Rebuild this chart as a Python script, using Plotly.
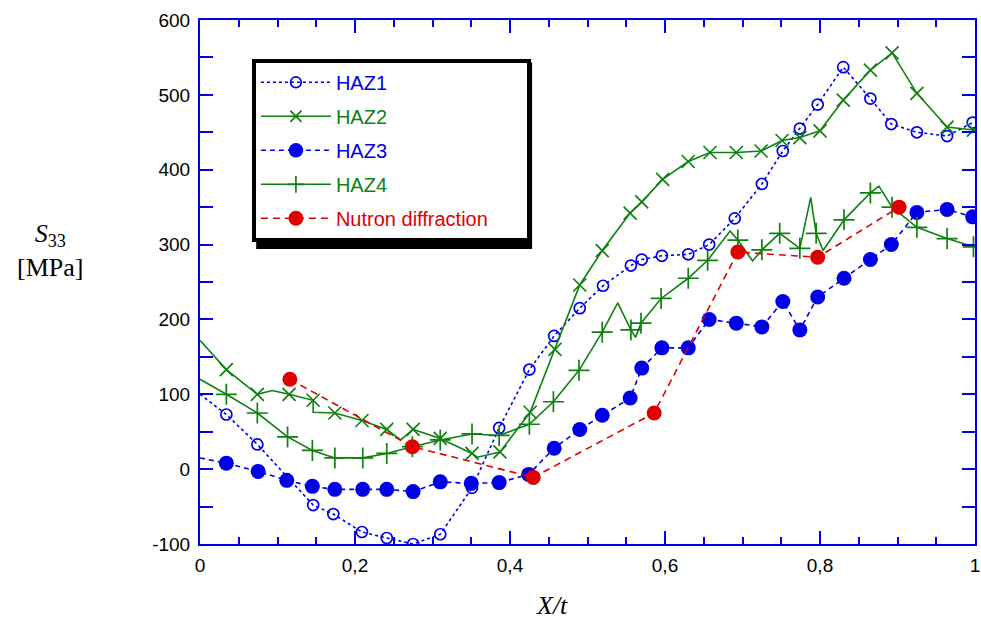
import plotly.graph_objects as go

# ---------------- data ----------------
haz1_x = [0.0, 0.034, 0.074, 0.146, 0.172, 0.209, 0.241, 0.275, 0.310, 0.351, 0.386, 0.425,
          0.457, 0.490, 0.520, 0.556, 0.570, 0.596, 0.630, 0.657, 0.690, 0.725, 0.752, 0.774,
          0.797, 0.830, 0.865, 0.892, 0.925, 0.964, 0.997]
haz1_y = [100, 73, 33, -48, -60, -84, -92, -100, -87, -25, 55, 133,
          178, 215, 245, 272, 280, 285, 287, 300, 335, 381, 425, 455,
          487, 537, 495, 461, 450, 445, 463]
haz1_marker = [False] + [True] * 30

haz2_x = [0.0, 0.034, 0.074, 0.093, 0.115, 0.146, 0.146, 0.174, 0.209, 0.241, 0.259, 0.275, 0.310,
          0.351, 0.358, 0.387, 0.426, 0.458, 0.490, 0.519, 0.555, 0.570, 0.597, 0.630,
          0.658, 0.692, 0.724, 0.751, 0.774, 0.800, 0.830, 0.865, 0.893, 0.925, 0.964, 0.998]
haz2_y = [172, 133, 100, 105, 100, 92, 76, 75, 65, 53, 39, 53, 41,
          21, 16, 23, 76, 160, 246, 292, 342, 357, 387, 411,
          423, 423, 425, 439, 443, 452, 493, 533, 556, 502, 457, 453]
haz2_marker = [False, True, True, False, True, True, False, True, True, True, False, True, True,
               True, False, True, True, True, True, True, True, True, True, True,
               True, True, True, True, True, True, True, True, True, True, True, True]

haz3_x = [0.0, 0.034, 0.075, 0.112, 0.145, 0.174, 0.210, 0.241, 0.275, 0.310, 0.350, 0.386,
          0.424, 0.457, 0.490, 0.519, 0.555, 0.570, 0.596, 0.630, 0.657, 0.692, 0.725,
          0.752, 0.774, 0.797, 0.831, 0.865, 0.892, 0.925, 0.964, 0.997]
haz3_y = [15, 8, -3, -15, -23, -27, -27, -27, -30, -17, -19, -18,
          -7, 28, 53, 72, 95, 135, 162, 162, 200, 195, 190,
          224, 186, 230, 255, 280, 300, 343, 347, 337]
haz3_marker = [False] + [True] * 31

haz4_x = [0.0, 0.034, 0.074, 0.113, 0.145, 0.174, 0.210, 0.241, 0.274, 0.310, 0.351, 0.386,
          0.425, 0.456, 0.489, 0.519, 0.539, 0.556, 0.562, 0.569, 0.595, 0.630, 0.655,
          0.684, 0.694, 0.713, 0.725, 0.748, 0.774, 0.788, 0.795, 0.804, 0.831, 0.865,
          0.876, 0.893, 0.925, 0.964, 0.998]
haz4_y = [120, 100, 75, 43, 25, 15, 15, 21, 30, 39, 47, 45,
          60, 90, 132, 183, 222, 186, 176, 195, 228, 255, 279,
          318, 306, 278, 293, 315, 295, 363, 315, 292, 333, 369,
          378, 350, 323, 308, 297]
haz4_marker = [False, True, True, True, True, True, True, True, True, True, True, True,
               True, True, True, True, False, True, False, True, True, True, True,
               False, True, False, True, True, True, False, True, False, True, True,
               False, True, True, True, True]

nd_x = [0.116, 0.274, 0.430, 0.586, 0.694, 0.797, 0.902]
nd_y = [120, 30, -11, 75, 290, 283, 350]

x_ticks = [0, 0.2, 0.4, 0.6, 0.8, 1]
x_tick_labels = ["0", "0,2", "0,4", "0,6", "0,8", "1"]
y_ticks = [-100, 0, 100, 200, 300, 400, 500, 600]
y_tick_labels = ["-100", "0", "100", "200", "300", "400", "500", "600"]

BLUE = "rgb(0,0,230)"
GREEN = "rgb(16,128,16)"
RED = "rgb(225,0,0)"


def sizes(flags, s):
    return [s if f else 0 for f in flags]


fig = go.Figure()

fig.add_trace(go.Scatter(
    x=haz1_x, y=haz1_y, mode="lines+markers",
    name=f"<span style='color:{BLUE}'>HAZ1</span>",
    legendgroup="a",
    line=dict(color=BLUE, width=1.6, dash="3px,3px"),
    marker=dict(symbol="circle-open", size=sizes(haz1_marker, 11), color=BLUE, opacity=1,
                line=dict(width=1.7, color=BLUE)),
))
fig.add_trace(go.Scatter(
    x=haz2_x, y=haz2_y, mode="lines+markers",
    name=f"<span style='color:{GREEN}'>HAZ2</span>",
    legendgroup="b",
    line=dict(color=GREEN, width=1.6),
    marker=dict(symbol="x-thin-open", size=sizes(haz2_marker, 13), color=GREEN, opacity=1,
                line=dict(width=1.7, color=GREEN)),
))
fig.add_trace(go.Scatter(
    x=haz3_x, y=haz3_y, mode="lines+markers",
    name=f"<span style='color:{BLUE}'>HAZ3</span>",
    legendgroup="c",
    line=dict(color=BLUE, width=1.6, dash="5px,4px"),
    marker=dict(symbol="circle", size=sizes(haz3_marker, 15), color=BLUE, opacity=1,
                line=dict(width=0)),
))
fig.add_trace(go.Scatter(
    x=haz4_x, y=haz4_y, mode="lines+markers",
    name=f"<span style='color:{GREEN}'>HAZ4</span>",
    legendgroup="d",
    line=dict(color=GREEN, width=1.6),
    marker=dict(symbol="cross-thin-open", size=sizes(haz4_marker, 15), color=GREEN, opacity=1,
                line=dict(width=1.7, color=GREEN)),
))
fig.add_trace(go.Scatter(
    x=nd_x, y=nd_y, mode="lines+markers",
    name=f"<span style='color:{RED}'>Nutron diffraction</span>&nbsp;&nbsp;&nbsp;&nbsp;&nbsp;&nbsp;",
    legendgroup="e",
    line=dict(color=RED, width=1.6, dash="7px,5px"),
    marker=dict(symbol="circle", size=15, color=RED),
))

axis_common = dict(
    showline=True, linecolor=BLUE, linewidth=2, mirror="ticks",
    ticks="inside", tickcolor=BLUE, tickwidth=2, showgrid=False, zeroline=False,
    automargin=False,
    tickfont=dict(family="Liberation Sans, Arial", size=19, color="black"),
)

fig.update_xaxes(
    range=[0, 1], tickvals=x_ticks, ticktext=x_tick_labels, ticklen=13,
    ticklabelstandoff=3,
    minor=dict(dtick=0.05, ticks="inside", ticklen=7, tickcolor=BLUE, tickwidth=2),
    **axis_common,
)
fig.update_yaxes(
    range=[-100, 600], tickvals=y_ticks, ticktext=y_tick_labels, ticklen=13,
    ticklabelstandoff=4,
    minor=dict(dtick=50, ticks="inside", ticklen=13, tickcolor=BLUE, tickwidth=2),
    **axis_common,
)

# legend geometry (paper coords); shadow rect offset a few px right/down
leg_x0, leg_y1 = 0.067, 0.926
fig.add_shape(type="rect", xref="paper", yref="paper",
              x0=0.0725, x1=0.4285, y0=0.5630, y1=0.9190,
              fillcolor="black", line=dict(width=0), layer="below")

fig.update_layout(
    width=981, height=626,
    margin=dict(l=200, r=6, t=20, b=82, autoexpand=False),
    plot_bgcolor="white", paper_bgcolor="white",
    showlegend=True,
    legend=dict(
        x=leg_x0, y=leg_y1, xanchor="left", yanchor="top",
        bgcolor="white", bordercolor="black", borderwidth=4,
        font=dict(family="Liberation Sans, Arial", size=20),
        itemwidth=70, tracegroupgap=5, traceorder="grouped",
    ),
    annotations=[
        dict(text="<i>X/t</i>", xref="paper", yref="paper", x=0.454, y=-0.085,
             xanchor="center", yanchor="top", showarrow=False,
             font=dict(family="Liberation Serif, Times New Roman", size=26, color="black")),
        dict(text="<i>S</i><sub>33</sub><br>[MPa]", xref="paper", yref="paper",
             x=-0.193, y=0.56, xanchor="center", yanchor="middle", showarrow=False,
             align="center",
             font=dict(family="Liberation Serif, Times New Roman", size=26, color="black")),
    ],
)

fig.write_html("out.html")
